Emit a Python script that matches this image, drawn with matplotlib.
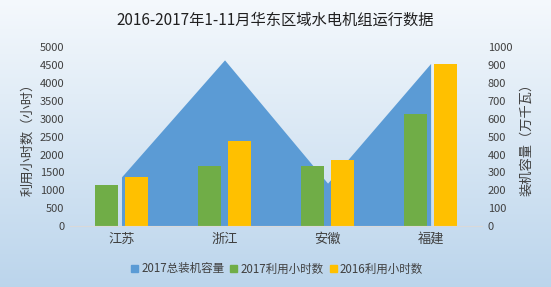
import numpy as np
import matplotlib
matplotlib.use("Agg")
import matplotlib.pyplot as plt
from matplotlib.patches import Patch

plt.rcParams['font.family'] = ['Noto Sans CJK SC', 'DejaVu Sans']

categories = ['江苏', '浙江', '安徽', '福建']
capacity_2017 = [275, 930, 240, 910]        # 万千瓦
hours_2017 = [1150, 1680, 1680, 3130]       # 小时
hours_2016 = [1380, 2380, 1840, 4530]       # 小时

left_ticks = list(range(0, 5001, 500))
right_ticks = list(range(0, 1001, 100))

c_area = '#5b9bd5'
c_green = '#70ad47'
c_yellow = '#ffc000'
c_text = '#404040'

fig = plt.figure(figsize=(5.51, 2.87), dpi=100)

# gradient background
bg = fig.add_axes([0, 0, 1, 1], zorder=-10)
grad = np.linspace(0, 1, 256)[:, None]
top = np.array([0.960, 0.975, 0.990])
bot = np.array([0.735, 0.835, 0.925])
img = top[None, None, :] * (1 - grad[:, :, None]) + bot[None, None, :] * grad[:, :, None]
bg.imshow(img, aspect='auto', extent=[0, 1, 0, 1])
bg.set_axis_off()

ax = fig.add_axes([0.127, 0.2125, 0.748, 0.6225])
ax2 = ax.twinx()
ax.set_zorder(ax2.get_zorder() + 1)
ax.patch.set_visible(False)
ax2.patch.set_visible(False)

x = np.arange(len(categories))
ax2.fill_between(x, 0, capacity_2017, color=c_area, linewidth=0)

w = 0.22
ax.bar(x - 0.145, hours_2017, width=w, color=c_green)
ax.bar(x + 0.145, hours_2016, width=w, color=c_yellow)

ax.set_xlim(-0.5, len(categories) - 0.5)
ax.set_ylim(0, 5000)
ax2.set_ylim(0, 1000)
ax.set_yticks(left_ticks)
ax2.set_yticks(right_ticks)
ax.set_xticks(x)
ax.set_xticklabels(categories)

for a in (ax, ax2):
    for s in a.spines.values():
        s.set_visible(False)
    a.tick_params(length=0, labelsize=8, colors=c_text)
ax.spines['bottom'].set_visible(True)
ax.spines['bottom'].set_color('#d9d9d9')
ax.tick_params(axis='x', pad=5, labelsize=9.5)
ax.tick_params(axis='y', pad=4)
ax2.tick_params(axis='y', pad=4)
for lbl in ax.get_yticklabels():
    lbl.set_horizontalalignment('right')
for lbl in ax2.get_yticklabels():
    lbl.set_horizontalalignment('left')

ax.set_ylabel('利用小时数（小时）', fontsize=9.5, color=c_text, labelpad=4)
ax2.set_ylabel('装机容量（万千瓦）', fontsize=9.5, color=c_text, rotation=90, labelpad=6)

fig.text(0.5, 0.928, '2016-2017年1-11月华东区域水电机组运行数据', ha='center', va='center',
         fontsize=11, color='#202020')

handles = [Patch(color=c_area), Patch(color=c_green), Patch(color=c_yellow)]
labels = ['2017总装机容量', '2017利用小时数', '2016利用小时数']
fig.legend(handles, labels, loc='center', bbox_to_anchor=(0.503, 0.063), ncol=3,
           frameon=False, fontsize=8.3, handlelength=0.6, handleheight=0.6,
           handletextpad=0.3, columnspacing=0.5, labelcolor=c_text)

fig.savefig('out.png', dpi=100)
